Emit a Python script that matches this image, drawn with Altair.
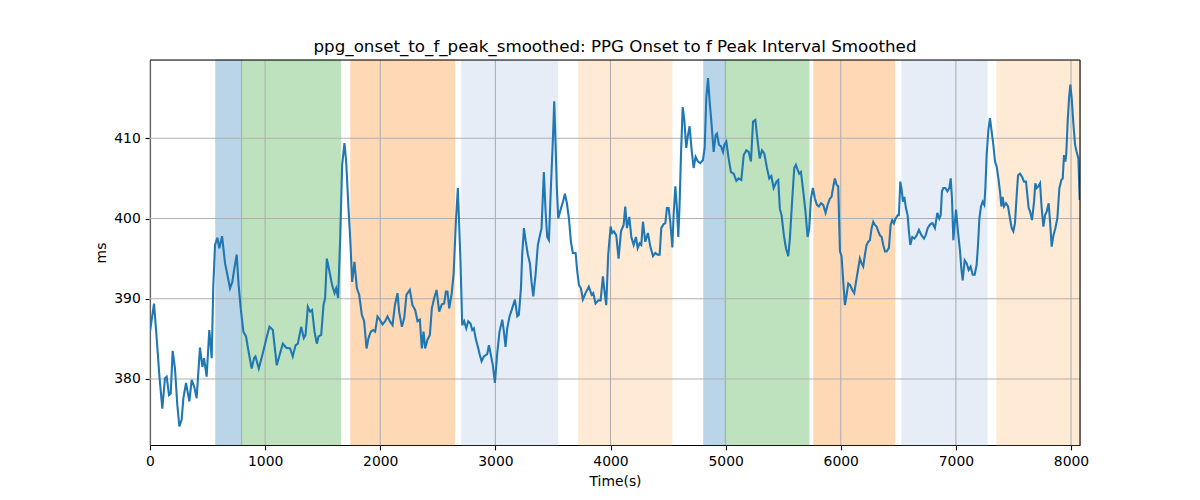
import altair as alt
import pandas as pd

# ---- data ----
time_s = [0, 35, 58, 81, 107, 130, 145, 165, 180, 197, 217, 237, 255, 275, 290, 313, 342, 362, 385, 405,
          434, 455, 469, 492, 515, 536, 550, 565, 585, 602, 626, 652, 672, 695, 715, 733, 753, 770, 788, 811,
          834, 854, 883, 904, 916, 945, 980, 1015, 1038, 1067, 1101, 1130, 1154, 1183, 1217, 1240, 1264, 1284,
          1313, 1336, 1351, 1371, 1391, 1408, 1429, 1449, 1464, 1487, 1507, 1521, 1536, 1559, 1582, 1603, 1617,
          1634, 1652, 1669, 1689, 1704, 1724, 1739, 1756, 1776, 1797, 1817, 1840, 1860, 1881, 1898, 1918, 1939,
          1956, 1976, 1996, 2020, 2043, 2063, 2083, 2107, 2127, 2150, 2164, 2188, 2208, 2228, 2257, 2280, 2303,
          2324, 2344, 2361, 2376, 2390, 2410, 2431, 2448, 2469, 2489, 2512, 2535, 2555, 2570, 2584, 2599, 2619,
          2637, 2657, 2674, 2697, 2712, 2729, 2747, 2764, 2784, 2799, 2813, 2828, 2848, 2865, 2880, 2900, 2929,
          2944, 2958, 2978, 2996, 3016, 3036, 3060, 3074, 3088, 3103, 3123, 3146, 3170, 3190, 3204, 3222, 3233,
          3248, 3262, 3282, 3300, 3314, 3329, 3349, 3369, 3384, 3401, 3421, 3436, 3450, 3465, 3482, 3500, 3511,
          3523, 3534, 3546, 3566, 3587, 3604, 3621, 3639, 3656, 3673, 3697, 3711, 3726, 3743, 3760, 3783, 3812,
          3836, 3850, 3870, 3894, 3914, 3934, 3951, 3963, 3980, 4001, 4015, 4030, 4050, 4070, 4091, 4114, 4128,
          4143, 4163, 4181, 4201, 4221, 4236, 4253, 4267, 4282, 4302, 4325, 4346, 4369, 4389, 4409, 4427, 4441,
          4461, 4476, 4490, 4505, 4519, 4537, 4548, 4563, 4577, 4589, 4600, 4612, 4627, 4641, 4658, 4673, 4687,
          4705, 4722, 4739, 4760, 4780, 4803, 4818, 4832, 4847, 4861, 4878, 4896, 4913, 4925, 4942, 4960, 4977,
          4989, 5006, 5026, 5046, 5070, 5093, 5113, 5136, 5157, 5180, 5200, 5220, 5238, 5258, 5272, 5296, 5316,
          5336, 5359, 5379, 5397, 5417, 5442, 5457, 5471, 5486, 5506, 5524, 5544, 5558, 5579, 5596, 5610, 5625,
          5639, 5654, 5674, 5694, 5712, 5726, 5741, 5758, 5775, 5793, 5810, 5828, 5848, 5868, 5886, 5906, 5920,
          5935, 5949, 5964, 5978, 5993, 6007, 6022, 6036, 6051, 6065, 6082, 6100, 6117, 6138, 6152, 6166, 6181,
          6195, 6210, 6224, 6239, 6253, 6268, 6282, 6297, 6311, 6326, 6340, 6355, 6369, 6384, 6398, 6418, 6433,
          6447, 6462, 6476, 6494, 6505, 6517, 6529, 6540, 6552, 6566, 6581, 6592, 6604, 6621, 6639, 6659, 6679,
          6702, 6723, 6737, 6755, 6772, 6789, 6798, 6818, 6839, 6856, 6868, 6879, 6891, 6908, 6926, 6943, 6955,
          6966, 6978, 6989, 7001, 7018, 7036, 7047, 7059, 7076, 7094, 7111, 7128, 7146, 7163, 7180, 7192, 7204,
          7218, 7233, 7247, 7256, 7267, 7282, 7296, 7311, 7325, 7340, 7354, 7369, 7383, 7395, 7406, 7418, 7435,
          7453, 7470, 7485, 7499, 7513, 7528, 7540, 7557, 7574, 7592, 7609, 7621, 7632, 7644, 7661, 7679, 7690,
          7702, 7716, 7731, 7745, 7760, 7774, 7789, 7806, 7818, 7832, 7847, 7864, 7881, 7899, 7916, 7928, 7939,
          7951, 7959, 7971, 7983, 7994, 8006, 8020, 8035, 8049, 8064, 8075]

interval_ms = [385.9, 389.4, 385.1, 380.5, 376.3, 380.1, 380.3, 378.0, 378.2, 383.5, 381.3, 376.8, 374.1, 374.9,
               377.6, 379.5, 377.2, 379.9, 379.0, 377.6, 383.9, 381.5, 382.6, 380.3, 386.1, 382.6, 391.7, 396.7,
               397.6, 396.3, 397.8, 394.4, 393.0, 391.3, 392.1, 393.8, 395.5, 391.7, 388.8, 385.9, 385.3, 383.6,
               381.3, 382.6, 382.8, 381.3, 383.2, 385.3, 386.5, 386.1, 381.7, 383.2, 384.4, 383.9, 383.8, 382.8,
               384.2, 384.4, 386.5, 385.1, 385.5, 389.0, 388.4, 388.6, 385.9, 384.4, 385.3, 385.5, 389.2, 390.1,
               395.0, 393.4, 391.7, 390.7, 391.3, 390.1, 397.5, 406.7, 409.4, 407.1, 401.3, 397.5, 392.1, 394.6,
               391.3, 390.5, 388.0, 387.2, 383.8, 385.1, 385.9, 386.1, 385.9, 387.8, 387.4, 386.8, 387.2, 387.8,
               387.2, 386.7, 389.2, 390.7, 388.4, 386.5, 387.6, 390.5, 391.1, 389.2, 388.6, 387.2, 387.4, 383.8,
               385.9, 383.8, 384.9, 385.5, 388.8, 390.1, 391.1, 388.4, 389.3, 389.4, 390.9, 390.9, 388.8, 390.5,
               393.0, 399.6, 403.8, 394.6, 386.7, 387.2, 386.3, 387.2, 386.9, 386.1, 386.3, 385.1, 384.0, 383.0,
               382.2, 382.8, 383.1, 384.2, 383.2, 381.7, 379.5, 383.2, 385.9, 387.4, 385.9, 384.0, 386.3, 387.8,
               388.8, 389.9, 387.8, 388.0, 391.3, 395.5, 398.8, 397.3, 395.5, 394.4, 392.1, 390.3, 393.0, 396.7,
               397.7, 398.8, 405.8, 400.9, 397.7, 397.3, 403.8, 410.0, 414.6, 409.2, 403.8, 400.0, 401.1, 402.1,
               403.1, 401.9, 400.0, 397.1, 395.7, 395.7, 393.4, 391.7, 391.3, 389.9, 390.7, 391.5, 390.5, 390.7,
               389.4, 389.8, 389.8, 392.8, 390.5, 389.2, 395.5, 399.0, 398.2, 398.4, 397.9, 395.0, 398.4, 399.2,
               401.5, 398.8, 400.2, 397.7, 396.7, 397.7, 396.3, 396.9, 396.7, 399.6, 397.1, 398.2, 396.5, 395.3,
               395.7, 395.5, 395.5, 398.8, 399.3, 399.4, 401.3, 401.3, 399.6, 396.4, 400.4, 404.0, 401.3, 397.7,
               401.7, 407.9, 413.9, 412.3, 408.8, 410.4, 411.5, 408.5, 406.3, 407.7, 407.1, 406.9, 407.3, 408.8,
               415.0, 417.5, 414.6, 411.7, 408.3, 410.4, 410.6, 409.2, 409.0, 408.3, 409.2, 409.6, 407.5, 405.8,
               405.6, 404.7, 405.0, 404.8, 407.9, 408.5, 408.3, 407.1, 412.1, 412.3, 410.4, 407.5, 408.5, 408.1,
               406.3, 405.0, 405.3, 403.8, 404.6, 404.8, 401.2, 400.4, 397.9, 396.3, 395.3, 397.5, 402.5, 406.3,
               406.7, 406.1, 405.6, 405.8, 403.4, 400.8, 397.7, 398.8, 402.5, 403.8, 402.5, 401.7, 401.5, 401.9,
               401.7, 400.7, 401.7, 402.5, 402.7, 404.0, 405.0, 404.2, 404.0, 395.9, 395.3, 392.1, 389.2, 390.5,
               391.9, 391.7, 391.1, 390.7, 392.6, 393.8, 395.0, 394.4, 394.0, 395.5, 396.7, 397.1, 397.3, 398.8,
               399.6, 399.2, 399.0, 398.4, 397.9, 397.7, 396.7, 395.9, 395.9, 396.3, 399.2, 399.8, 399.4, 400.0,
               400.4, 400.4, 404.6, 403.6, 402.1, 402.7, 401.3, 400.4, 398.4, 396.7, 397.7, 397.5, 397.9, 398.6,
               397.9, 397.5, 397.9, 398.8, 399.2, 399.4, 399.4, 398.8, 400.7, 400.0, 400.4, 403.4, 403.8, 403.8,
               403.4, 403.8, 405.0, 402.5, 397.3, 399.2, 401.1, 398.4, 395.9, 393.8, 392.3, 394.8, 394.4, 393.6,
               394.0, 393.0, 393.0, 394.2, 396.7, 400.0, 401.5, 402.1, 401.7, 403.8, 407.9, 411.0, 412.5, 410.8,
               409.2, 407.1, 406.5, 405.0, 403.4, 401.5, 402.7, 401.5, 401.9, 401.5, 400.0, 398.8, 398.4, 399.4,
               402.9, 405.4, 405.6, 405.2, 404.6, 404.6, 402.9, 401.3, 400.9, 399.8, 402.1, 404.4, 403.8, 404.0,
               404.4, 401.3, 399.0, 400.4, 400.9, 401.9, 399.6, 396.5, 397.9, 398.8, 400.0, 403.8, 404.8, 405.0,
               407.9, 407.1, 408.1, 412.1, 415.0, 416.7, 415.0, 411.9, 409.2, 408.3, 407.5, 402.3]

span_start = [572, 795, 1745, 2709, 3725, 4811, 4997, 5767, 6532, 7357]
span_end = [795, 1655, 2645, 3540, 4532, 4997, 5723, 6468, 7270, 8078]
span_color = ["#1f77b4", "#2ca02c", "#ff7f0e", "#aec7e8", "#ffbb78",
              "#1f77b4", "#2ca02c", "#ff7f0e", "#aec7e8", "#ffbb78"]

x_ticks = [0, 1000, 2000, 3000, 4000, 5000, 6000, 7000, 8000]
y_ticks = [380, 390, 400, 410]
x_domain = [0, 8078]
y_domain = [371.77, 419.76]

title_text = "ppg_onset_to_f_peak_smoothed: PPG Onset to f Peak Interval Smoothed"

# ---- tables ----
line_df = pd.DataFrame({"t": time_s, "v": interval_ms})
span_df = pd.DataFrame({"start": span_start, "end": span_end, "color": span_color})
xgrid_df = pd.DataFrame({"xt": x_ticks})
ygrid_df = pd.DataFrame({"yt": y_ticks})
top_df = pd.DataFrame({"ytop": [y_domain[1]]})
right_df = pd.DataFrame({"xright": [x_domain[1]]})

FONT = "DejaVu Sans"
xscale = alt.Scale(domain=x_domain, nice=False, zero=False)
yscale = alt.Scale(domain=y_domain, nice=False, zero=False)

axis_common = dict(
    grid=False, tickColor="black", tickSize=4.86, tickWidth=1.1,
    domainColor="black", domainWidth=1.1, labelColor="black", labelFont=FONT,
    labelFontSize=13.9, labelPadding=4.86, titleFont=FONT, titleFontSize=13.9,
    titleFontWeight="normal", titleColor="black", titlePadding=5.6, format="d",
    labelFlush=False, labelOverlap=False,
)
x_axis = alt.Axis(values=x_ticks, title="Time(s)", **axis_common)
y_axis = alt.Axis(values=y_ticks, title="ms", **axis_common)

spans = alt.Chart(span_df).mark_rect(opacity=0.3, strokeWidth=1.2).encode(
    x=alt.X("start:Q", scale=xscale, axis=x_axis),
    x2="end:Q",
    color=alt.Color("color:N", scale=None),
    stroke=alt.Stroke("color:N", scale=None),
)

xgrid = alt.Chart(xgrid_df).mark_rule(color="#b0b0b0", strokeWidth=1.1).encode(
    x=alt.X("xt:Q", scale=xscale, axis=x_axis)
)
ygrid = alt.Chart(ygrid_df).mark_rule(color="#b0b0b0", strokeWidth=1.1).encode(
    y=alt.Y("yt:Q", scale=yscale, axis=y_axis)
)

line = alt.Chart(line_df).mark_line(color="#1f77b4", strokeWidth=2.08, clip=True).encode(
    x=alt.X("t:Q", scale=xscale, axis=x_axis),
    y=alt.Y("v:Q", scale=yscale, axis=y_axis),
)

# top and right spines of the axes frame
top_spine = alt.Chart(top_df).mark_rule(color="black", strokeWidth=1.1).encode(
    y=alt.Y("ytop:Q", scale=yscale, axis=y_axis)
)
right_spine = alt.Chart(right_df).mark_rule(color="black", strokeWidth=1.1).encode(
    x=alt.X("xright:Q", scale=xscale, axis=x_axis)
)

chart = alt.layer(spans, xgrid, ygrid, line, top_spine, right_spine).properties(
    width=930,
    height=385,
    title=alt.TitleParams(title_text, font=FONT, fontSize=16.7, fontWeight="normal",
                          color="black", offset=4, anchor="middle"),
    autosize=alt.AutoSizeParams(type="none"),
    padding={"left": 142, "top": 52, "right": 112, "bottom": 47},
).configure_view(stroke="black", strokeWidth=1.1).configure(background="white")

chart.save("out.html", embed_options={"renderer": "svg", "actions": False})
